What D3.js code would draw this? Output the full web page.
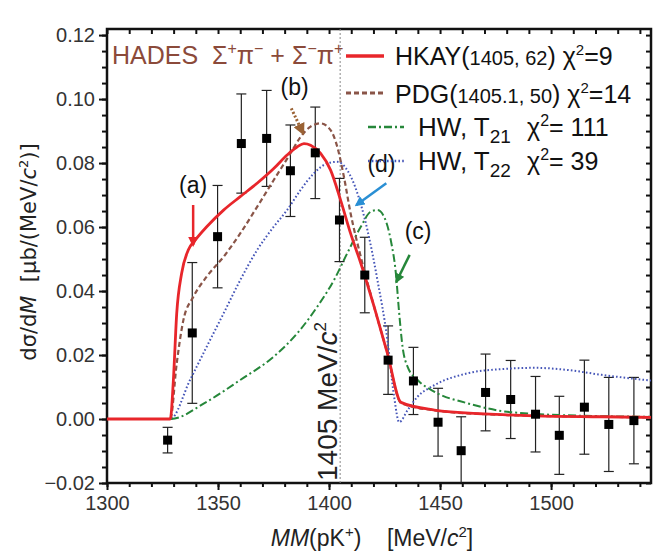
<!DOCTYPE html>
<html>
<head>
<meta charset="utf-8">
<script src="https://cdn.jsdelivr.net/npm/d3@7"></script>
<style>
  body { margin: 0; background: #fff; }
  text { font-family: "Liberation Sans", Arial, sans-serif; }
</style>
</head>
<body>
<svg></svg>
<script>
// measured points (HADES)
const massBins = [1327.3, 1338.4, 1349.8, 1360.5, 1371.9, 1382.6, 1393.8, 1404.7, 1416.1, 1426.6,
                  1438.0, 1449.1, 1459.5, 1470.5, 1481.8, 1493.0, 1503.7, 1515.0, 1526.0, 1537.3];
const yields = [-0.0066, 0.0269, 0.057, 0.0861, 0.0877, 0.0776, 0.0832, 0.0622, 0.045, 0.0184,
                0.0119, -0.001, -0.0099, 0.0083, 0.0061, 0.0015, -0.0051, 0.0037, -0.0017, -0.0005];
const yieldErrors = [0.004, 0.022, 0.016, 0.0155, 0.015, 0.0143, 0.0143, 0.013, 0.0118, 0.0107,
                     0.0105, 0.0106, 0.0106, 0.012, 0.0122, 0.0118, 0.0122, 0.0147, 0.0147, 0.0135];

// model curves [mass, value]
const hkayCurve = [[1300,0],[1328.5,0],[1329.9,0.0122],[1331.4,0.033],[1333.6,0.0455],[1336.6,0.0528],
  [1339.7,0.0559],[1344.9,0.0601],[1352.5,0.0653],[1360,0.0695],[1367.6,0.0737],[1375.1,0.0783],
  [1381.1,0.0825],[1385.7,0.0851],[1388.7,0.0861],[1391.7,0.0856],[1396.2,0.083],[1400.7,0.0778],
  [1405.2,0.0684],[1409.7,0.058],[1414.3,0.0487],[1420.3,0.0351],[1426.3,0.0205],[1432.4,0.0052],
  [1447.5,0.0028],[1470,0.0016],[1492.7,0.001],[1522.8,0.0007],[1545,0.0005]];
const pdgCurve = [[1300,0],[1328.5,0],[1331.4,0.0174],[1334.4,0.0309],[1338.9,0.0382],[1344.9,0.0445],
  [1352.5,0.0507],[1360,0.058],[1367.6,0.0663],[1375.1,0.0747],[1382.6,0.083],[1387.2,0.0882],
  [1391.7,0.0914],[1396.2,0.0924],[1400.7,0.0903],[1403.7,0.0851],[1406.7,0.0757],[1409.7,0.0643],
  [1414.3,0.0507],[1420.3,0.0351],[1426.3,0.0205],[1432.4,0.005],[1447.5,0.0027],[1470,0.0015],
  [1492.7,0.001],[1522.8,0.0007],[1545,0.0005]];
const hwT21Curve = [[1300,0],[1328.5,0],[1344.9,0.0054],[1360,0.0122],[1375.1,0.0195],[1385.7,0.0268],
  [1394.7,0.0351],[1402.2,0.0434],[1408.2,0.0518],[1414.3,0.0601],[1418.8,0.0648],[1421.8,0.0653],
  [1424.8,0.0632],[1427.8,0.0559],[1430.1,0.0455],[1431.6,0.033],[1433.1,0.0226],[1435.4,0.0163],
  [1439.9,0.0122],[1447.5,0.0085],[1462.5,0.0049],[1477.6,0.0025],[1492.7,0.0016],[1515.3,0.001],
  [1545,0.0007]];
const hwT22Curve = [[1300,0],[1328.5,0],[1337.4,0.0122],[1344.9,0.0226],[1352.5,0.033],[1360,0.0434],
  [1367.6,0.0528],[1375.1,0.0601],[1381.1,0.0653],[1387.2,0.0716],[1393.2,0.0768],[1399.2,0.0799],
  [1403.7,0.0804],[1408.2,0.0778],[1412.8,0.0705],[1417.3,0.059],[1421.8,0.0434],[1426.3,0.0247],
  [1429.3,0.007],[1431.6,-0.001],[1435.4,0.0028],[1439.9,0.007],[1447.5,0.0106],[1462.5,0.0143],
  [1477.6,0.0156],[1492.7,0.016],[1507.8,0.0153],[1522.8,0.0138],[1545,0.012]];

const xTicks = [1300, 1350, 1400, 1450, 1500];
const yTicks = [-0.02, 0, 0.02, 0.04, 0.06, 0.08, 0.10, 0.12];
const refMass = 1405;

// annotation labels (a)-(d): label pos, arrow from, arrow to (data units)
const notes = [
  {label: '(a)', at: [1338.8, 0.0705], from: [1338.8, 0.0669], to: [1338.8, 0.0544], color: '#e8262b', dash: null},
  {label: '(b)', at: [1384.5, 0.1012], from: [1383.0, 0.0971], to: [1388.3, 0.0893], color: '#9a6234', dash: '2,2'},
  {label: '(d)', at: [1423.6, 0.0772], from: [1425.8, 0.0737], to: [1412.3, 0.0669], color: '#2a8fd4', dash: null},
  {label: '(c)', at: [1440.1, 0.0564], from: [1436.3, 0.0513], to: [1430.3, 0.0429], color: '#26873a', dash: null}
];

const width = 666, height = 555;
const svg = d3.select('svg').attr('width', width).attr('height', height);

const x = d3.scaleLinear().domain([1300, 1545]).range([107, 651]);
const y = d3.scaleLinear().domain([-0.02, 0.1219]).range([483, 29]);

svg.append('defs').append('clipPath').attr('id', 'plot')
  .append('rect').attr('x', x(1300)).attr('y', y(0.1219))
  .attr('width', x(1545) - x(1300)).attr('height', y(-0.02) - y(0.1219));

notes.forEach((n, i) => {
  svg.select('defs').append('marker')
    .attr('id', 'arr' + i).attr('viewBox', '0 0 10 10')
    .attr('refX', 8).attr('refY', 5)
    .attr('markerWidth', 4).attr('markerHeight', 4)
    .attr('orient', 'auto-start-reverse')
    .append('path').attr('d', 'M0,0 L10,5 L0,10 z').attr('fill', n.color);
});

// axes
const minorX = d3.range(1300, 1546, 10);
const minorY = d3.range(-0.02, 0.1226, 0.005);

svg.append('g').attr('transform', `translate(0,${y(-0.02)})`)
  .call(d3.axisBottom(x).tickValues(minorX).tickSize(4).tickFormat(''));
svg.append('g').attr('class', 'xmaj').attr('transform', `translate(0,${y(-0.02)})`)
  .call(d3.axisBottom(x).tickValues(xTicks).tickSize(7).tickPadding(6).tickFormat(d3.format('d')));
svg.append('g').attr('transform', `translate(0,${y(0.1219)})`)
  .call(d3.axisTop(x).tickValues(minorX).tickSize(-5).tickFormat(''));
svg.append('g').attr('transform', `translate(${x(1300)},0)`)
  .call(d3.axisLeft(y).tickValues(minorY).tickSize(5).tickFormat(''));
svg.append('g').attr('class', 'ymaj').attr('transform', `translate(${x(1300)},0)`)
  .call(d3.axisLeft(y).tickValues(yTicks).tickSize(8).tickPadding(4).tickFormat(d3.format('.2f')));
svg.append('g').attr('transform', `translate(${x(1545)},0)`)
  .call(d3.axisRight(y).tickValues(minorY).tickSize(-5).tickFormat(''));

svg.selectAll('.domain').remove();
svg.selectAll('.tick line').attr('stroke', '#111').attr('stroke-width', 2);
svg.selectAll('.xmaj text, .ymaj text')
  .style('font-size', '20px').attr('fill', '#333');

svg.append('rect')
  .attr('x', x(1300)).attr('y', y(0.1219))
  .attr('width', x(1545) - x(1300)).attr('height', y(-0.02) - y(0.1219))
  .attr('fill', 'none').attr('stroke', '#111').attr('stroke-width', 2.5);

// reference line
svg.append('line')
  .attr('x1', x(refMass)).attr('x2', x(refMass))
  .attr('y1', y(0.1219)).attr('y2', y(-0.02))
  .attr('stroke', '#888').attr('stroke-width', 1).attr('stroke-dasharray', '2,2');

const refLabel = svg.append('text')
  .attr('transform', `translate(${x(refMass) - 3},${y(-0.02) - 2}) rotate(-90)`)
  .style('font-size', '28px').attr('fill', '#222');
refLabel.append('tspan').text('1405 MeV/');
refLabel.append('tspan').style('font-style', 'italic').text('c');
refLabel.append('tspan').style('font-size', '17px').attr('dy', -11).text('2');

// data points
const plot = svg.append('g').attr('clip-path', 'url(#plot)');
const pts = massBins.map((m, i) => ({m: m, v: yields[i], e: yieldErrors[i]}));

plot.selectAll('.err').data(pts).enter().append('line')
  .attr('x1', d => x(d.m)).attr('x2', d => x(d.m))
  .attr('y1', d => y(d.v - d.e)).attr('y2', d => y(d.v + d.e))
  .attr('stroke', '#222').attr('stroke-width', 1.2);
[-1, 1].forEach(s => {
  plot.selectAll('.cap' + s).data(pts).enter().append('line')
    .attr('x1', d => x(d.m) - 5).attr('x2', d => x(d.m) + 5)
    .attr('y1', d => y(d.v + s * d.e)).attr('y2', d => y(d.v + s * d.e))
    .attr('stroke', '#222').attr('stroke-width', 1.2);
});

// curves
const line = d3.line().x(d => x(d[0])).y(d => y(d[1])).curve(d3.curveMonotoneX);
const curves = [
  {data: hwT22Curve, color: '#4656b8', w: 2, dash: '1.6,2.2'},
  {data: hwT21Curve, color: '#26873a', w: 2, dash: '8,3,2,3'},
  {data: pdgCurve, color: '#8a5548', w: 2.2, dash: '5,3'},
  {data: hkayCurve, color: '#e8262b', w: 2.8, dash: null}
];
curves.forEach(c => {
  plot.append('path').attr('d', line(c.data))
    .attr('fill', 'none').attr('stroke', c.color)
    .attr('stroke-width', c.w).attr('stroke-dasharray', c.dash);
});

plot.selectAll('.pt').data(pts).enter().append('rect')
  .attr('x', d => x(d.m) - 4.5).attr('y', d => y(d.v) - 4.5)
  .attr('width', 9).attr('height', 9).attr('fill', '#000');

// annotations
notes.forEach((n, i) => {
  svg.append('line')
    .attr('x1', x(n.from[0])).attr('y1', y(n.from[1]))
    .attr('x2', x(n.to[0])).attr('y2', y(n.to[1]))
    .attr('stroke', n.color).attr('stroke-width', n.dash ? 3 : 2.5)
    .attr('stroke-dasharray', n.dash)
    .attr('marker-end', `url(#arr${i})`);
  svg.append('text')
    .attr('x', x(n.at[0])).attr('y', y(n.at[1]))
    .attr('text-anchor', 'middle').style('font-size', '23px').attr('fill', '#111')
    .text(n.label);
});

// title
const title = svg.append('text').attr('x', 112).attr('y', 64)
  .style('font-size', '25px').attr('fill', '#8b4a3a');
title.append('tspan').text('HADES\u00a0\u00a0\u03a3');
title.append('tspan').attr('dy', -10).style('font-size', '16px').text('+');
title.append('tspan').attr('dy', 10).text('\u03c0');
title.append('tspan').attr('dy', -10).style('font-size', '16px').text('\u2212');
title.append('tspan').attr('dy', 10).text('\u00a0+\u00a0\u03a3');
title.append('tspan').attr('dy', -10).style('font-size', '16px').text('\u2212');
title.append('tspan').attr('dy', 10).text('\u03c0');
title.append('tspan').attr('dy', -10).style('font-size', '16px').text('+');

// legend
const leg = svg.append('g');
function sample(x1, x2, yy, c) {
  leg.append('line').attr('x1', x1).attr('x2', x2).attr('y1', yy).attr('y2', yy)
    .attr('stroke', c.color).attr('stroke-width', c.w + 0.6).attr('stroke-dasharray', c.dash);
}
sample(346, 384, 56, curves[3]);
sample(346, 384, 93, curves[2]);
sample(368, 404, 127, curves[1]);
sample(368, 404, 161, curves[0]);

function fitEntry(yy, name, params, chi) {
  const t = leg.append('text').attr('x', 395).attr('y', yy).style('font-size', '25px').attr('fill', '#111');
  t.append('tspan').text(name + '(');
  t.append('tspan').style('font-size', '20px').text(params);
  t.append('tspan').text(')\u00a0');
  t.append('tspan').text('\u03c7');
  t.append('tspan').attr('dy', -10).style('font-size', '15px').text('2');
  t.append('tspan').attr('dy', 10).text('=' + chi);
}
fitEntry(65, 'HKAY', '1405, 62', '9');
fitEntry(103, 'PDG', '1405.1, 50', '14');

function hwEntry(yy, sub, chi) {
  const t = leg.append('text').attr('x', 418).attr('y', yy).style('font-size', '26px').attr('fill', '#111');
  t.append('tspan').text('HW, T');
  t.append('tspan').attr('dy', 7).style('font-size', '19px').text(sub);
  const c = leg.append('text').attr('x', 527).attr('y', yy).style('font-size', '25px').attr('fill', '#111');
  c.append('tspan').text('\u03c7');
  c.append('tspan').attr('dy', -10).style('font-size', '16px').text('2');
  c.append('tspan').attr('dy', 10).text('=\u00a0' + chi);
}
hwEntry(136, '21', '111');
hwEntry(170, '22', '39');

// axis titles
const xt = svg.append('text').attr('x', 372).attr('y', 546)
  .attr('text-anchor', 'middle').style('font-size', '23px').attr('fill', '#222');
xt.append('tspan').style('font-style', 'italic').text('MM');
xt.append('tspan').text('(pK');
xt.append('tspan').attr('dy', -9).style('font-size', '15px').text('+');
xt.append('tspan').attr('dy', 9).text(')\u00a0\u00a0\u00a0\u00a0[MeV/');
xt.append('tspan').style('font-style', 'italic').text('c');
xt.append('tspan').attr('dy', -9).style('font-size', '15px').text('2');
xt.append('tspan').attr('dy', 9).text(']');

const yt = svg.append('text').attr('transform', 'translate(36,252) rotate(-90)')
  .attr('text-anchor', 'middle').style('font-size', '21px')
  .style('font-family', '"DejaVu Sans", sans-serif').attr('fill', '#222');
yt.append('tspan').text('d\u03c3/d');
yt.append('tspan').style('font-style', 'italic').text('M');
yt.append('tspan').text('\u00a0\u00a0[\u03bcb/(MeV/');
yt.append('tspan').style('font-style', 'italic').text('c');
yt.append('tspan').attr('dy', -8).style('font-size', '13px').text('2');
yt.append('tspan').attr('dy', 8).text(')]');
</script>
</body>
</html>
